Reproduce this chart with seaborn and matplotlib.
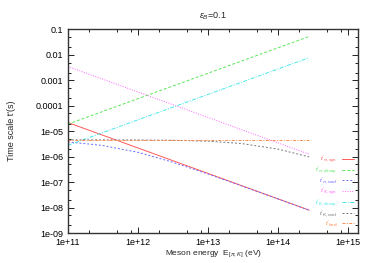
import numpy as np
import pandas as pd
import matplotlib
matplotlib.use("Agg")
import matplotlib.pyplot as plt
import seaborn as sns
from matplotlib.ticker import LogLocator, NullFormatter

# energies (eV)
E_line = [1e11, 2.8e14]
E_curve = [1e11, 3e11, 1e12, 3e12, 1e13, 3e13, 1e14, 2.8e14]

# time scales (s)
t_pi_syn = [2.2e-5, 7.9e-9]
t_pi_decay = [1.9e-5, 5.3e-2]
t_pi_cool = [3.8e-6, 2.8e-6, 1.49e-6, 6.3e-7, 2.1e-7, 7.2e-8, 2.19e-8, 7.85e-9]
t_K_syn = [3.5e-3, 1.25e-6]
t_K_decay = [2.8e-6, 7.8e-3]
t_K_cool = [4.59e-6, 4.58e-6, 4.54e-6, 4.43e-6, 4.07e-6, 3.3e-6, 1.99e-6, 9.8e-7]
t_had = [4.6e-6, 4.6e-6]

sns.set_style("ticks")
plt.rcParams['font.family'] = ['Liberation Sans', 'DejaVu Sans']
plt.rcParams['mathtext.fontset'] = 'custom'
plt.rcParams['mathtext.rm'] = 'Liberation Sans'
plt.rcParams['mathtext.it'] = 'Liberation Sans:italic'

fig = plt.figure(figsize=(3.75, 2.63), dpi=100)
ax = fig.add_axes([0.181, 0.114, 0.774, 0.774])

series = [
    (E_line, t_pi_syn, r"$t'_{\pi,\mathrm{syn}}$", "#ff5a5a", "-"),
    (E_line, t_pi_decay, r"$t'_{\pi,\mathrm{decay}}$", "#5ae65a", (0, (3, 2))),
    (E_curve, t_pi_cool, r"$t'_{\pi,\mathrm{cool}}$", "#6a6aff", (0, (2, 2))),
    (E_line, t_K_syn, r"$t'_{K,\mathrm{syn}}$", "#ff66ff", (0, (1, 1.5))),
    (E_line, t_K_decay, r"$t'_{K,\mathrm{decay}}$", "#44e8e8", (0, (4, 1.5, 1, 1.5))),
    (E_curve, t_K_cool, r"$t'_{K,\mathrm{cool}}$", "#777777", (0, (2, 2))),
    (E_line, t_had, r"$t'_{\mathrm{had}}$", "#ff8a50", (0, (3, 1.5, 1, 1.5))),
]

for xs, ys, lab, col, ls in series:
    df = pd.DataFrame({"E": xs, "t": ys})
    sns.lineplot(data=df, x="E", y="t", ax=ax, color=col, linestyle=ls,
                 linewidth=0.7, label=lab)

ax.set_xscale("log")
ax.set_yscale("log")
ax.set_xlim(1e11, 1.4e15)
ax.set_ylim(1e-9, 0.1)

ax.set_xticks([1e11, 1e12, 1e13, 1e14, 1e15])
ax.set_xticklabels(["1e+11", "1e+12", "1e+13", "1e+14", "1e+15"])
ax.set_yticks([1e-9, 1e-8, 1e-7, 1e-6, 1e-5, 1e-4, 1e-3, 1e-2, 1e-1])
ax.set_yticklabels(["1e-09", "1e-08", "1e-07", "1e-06", "1e-05",
                    "0.0001", "0.001", "0.01", "0.1"])
ax.xaxis.set_minor_locator(LogLocator(base=10, subs=(2, 5, 8)))
ax.yaxis.set_minor_locator(LogLocator(base=10, subs=(2, 5)))
ax.xaxis.set_minor_formatter(NullFormatter())
ax.yaxis.set_minor_formatter(NullFormatter())
ax.tick_params(which="both", direction="in", top=True, right=True,
               labelsize=6.5, width=0.6, colors="black")
ax.tick_params(which="major", length=4)
ax.tick_params(which="minor", length=2)
for sp in ax.spines.values():
    sp.set_linewidth(1.0)
    sp.set_color("#333333")

ax.set_xlabel(r"Meson energy  E$_{[\pi,K]}$ (eV)", fontsize=6, labelpad=1)
ax.set_ylabel("Time scale t'(s)", fontsize=6.5, labelpad=14)
ax.set_title(r"$\epsilon_B$=0.1", fontsize=6.5, pad=8)

leg = ax.legend(loc="lower right", frameon=False, markerfirst=False,
                fontsize=4.6, handlelength=1.8, labelspacing=-0.05,
                handletextpad=0.8, borderaxespad=0.6, borderpad=0.1)
for txt, (_, _, _, col, _) in zip(leg.get_texts(), series):
    txt.set_color(col)
    txt.set_ha("right")

fig.savefig("out.png", dpi=100)
